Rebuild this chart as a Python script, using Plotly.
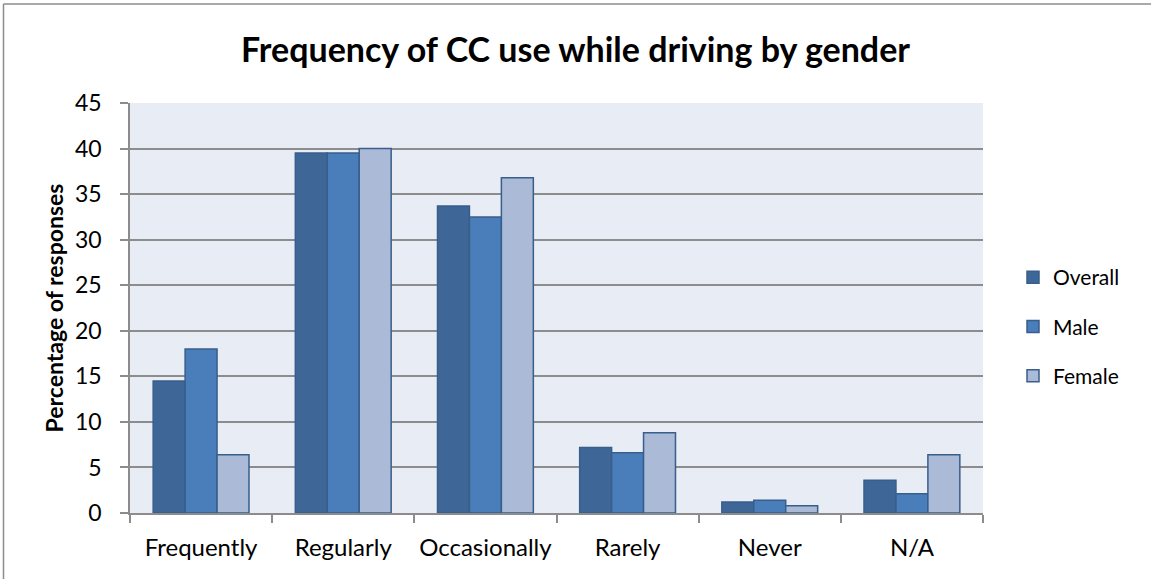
import plotly.graph_objects as go

categories = ["Frequently", "Regularly", "Occasionally", "Rarely", "Never", "N/A"]
overall = [14.5, 39.5, 33.7, 7.2, 1.2, 3.6]
male = [18.0, 39.5, 32.5, 6.6, 1.4, 2.1]
female = [6.4, 40.0, 36.8, 8.8, 0.8, 6.4]
series_names = ["Overall", "Male", "Female"]
y_ticks = [0, 5, 10, 15, 20, 25, 30, 35, 40, 45]

colors = ["#3E6797", "#4A7EBB", "#AABAD7"]
edge = "#385E8C"
FONT = "Lato"

fig = go.Figure()
for i, (name, vals) in enumerate(zip(series_names, [overall, male, female])):
    fig.add_trace(go.Bar(
        x=categories, y=vals, name=name, legendgroup=name,
        marker=dict(color=colors[i], line=dict(color=edge, width=1.5)),
    ))

W, H = 1151, 579
L, R, T, B = 130, 168, 103, 66
pw, ph = W - L - R, H - T - B

def px(x):
    return (x - L) / pw

def py(y):
    return (H - B - y) / ph

fig.update_layout(
    width=W, height=H,
    margin=dict(l=L, r=R, t=T, b=B, autoexpand=False),
    paper_bgcolor="white",
    plot_bgcolor="#E8ECF4",
    barmode="group", bargap=0.326, bargroupgap=0,
    title=dict(text="<b>Frequency of CC use while driving by gender</b>",
               x=0.5, xanchor="center", xref="container", y=1 - 50 / H, yanchor="middle",
               font=dict(family=FONT, size=34, color="black")),
    font=dict(family=FONT, size=23, color="black"),
    legend=dict(x=px(1013), y=py(257), xanchor="left", yanchor="top",
                font=dict(family=FONT, size=21, color="black"),
                tracegroupgap=19, itemwidth=30, bgcolor="rgba(0,0,0,0)"),
    xaxis=dict(
        type="category", tickson="boundaries", ticks="outside", ticklen=8,
        tickcolor="#8C8C8C", tickwidth=1.5, showline=True, linecolor="#8C8C8C",
        linewidth=1.5, showgrid=False, tickfont=dict(size=24, family=FONT),
        range=[-0.5, 5.5], ticklabelstandoff=12, tickangle=0, automargin=False,
    ),
    yaxis=dict(
        range=[0, 45], tickvals=y_ticks, ticks="outside", ticklen=8,
        tickcolor="#8C8C8C", tickwidth=1.5, showline=True, linecolor="#8C8C8C",
        linewidth=1.5, showgrid=True, gridcolor="#8C8C8C", gridwidth=1.5,
        tickfont=dict(size=23, family=FONT), zeroline=False, ticklabelstandoff=14,
        automargin=False,
        title=dict(text="<b>Percentage of responses</b>", font=dict(size=23, family=FONT), standoff=5),
    ),
    shapes=[
        dict(type="line", xref="paper", yref="paper", x0=px(3.5), x1=px(W + 5),
             y0=py(4), y1=py(4), line=dict(color="#8C8C8C", width=1.5)),
        dict(type="line", xref="paper", yref="paper", x0=px(3.5), x1=px(3.5),
             y0=py(4), y1=py(H + 5), line=dict(color="#8C8C8C", width=1.5)),
    ],
)

fig.write_html("out.html", config={"displayModeBar": False},
               post_script="document.body.style.margin='0';")
